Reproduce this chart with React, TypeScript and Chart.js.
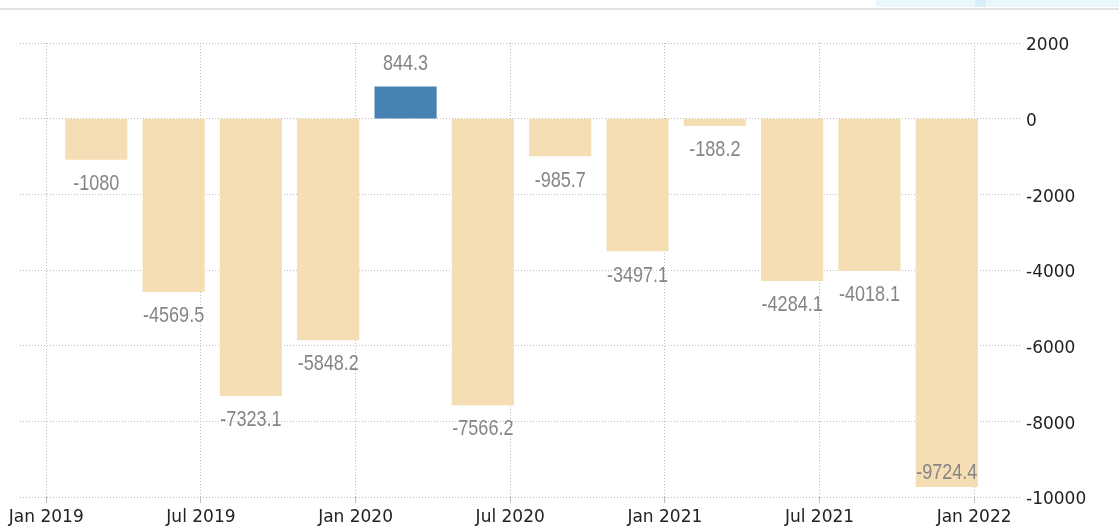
import React, { useEffect, useRef } from 'react';
import { Chart, registerables } from 'chart.js';

Chart.register(...registerables);

// Quarterly balance (quarter ends Mar 2019 ... Dec 2021)
const quarters = ['2019 Q1', '2019 Q2', '2019 Q3', '2019 Q4', '2020 Q1', '2020 Q2', '2020 Q3', '2020 Q4', '2021 Q1', '2021 Q2', '2021 Q3', '2021 Q4'];
const balance = [-1080, -4569.5, -7323.1, -5848.2, 844.3, -7566.2, -985.7, -3497.1, -188.2, -4284.1, -4018.1, -9724.4];

// x axis ticks: months counted from Jan 2019
const xTickMonths = [0, 6, 12, 18, 24, 30, 36];
const xTickLabels = ['Jan 2019', 'Jul 2019', 'Jan 2020', 'Jul 2020', 'Jan 2021', 'Jul 2021', 'Jan 2022'];
const yTickValues = [2000, 0, -2000, -4000, -6000, -8000, -10000];

const POS_COLOR = '#4682B4';
const NEG_COLOR = '#F5DEB3';
const GRID_COLOR = '#bdbdbd';

function quarterToMonth(q: string): number {
  const [y, qq] = q.split(' ');
  const year = parseInt(y, 10);
  const n = parseInt(qq.replace('Q', ''), 10);
  // bars sit just before the quarter-end date
  return (year - 2019) * 12 + n * 3 - 1.06;
}

const labelPlugin = {
  id: 'valueLabels',
  afterDatasetsDraw(chart: any) {
    const meta = chart.getDatasetMeta(0);
    const ctx = chart.ctx;
    const area = chart.chartArea;
    ctx.save();
    ctx.fillStyle = '#858585';
    ctx.font = '22px "Liberation Sans", Arial, sans-serif';
    ctx.textAlign = 'center';
    ctx.textBaseline = 'middle';
    meta.data.forEach((bar: any, i: number) => {
      const v = balance[i];
      const end = bar.y;
      let cy = v >= 0 ? end - 22.5 : end + 24.5;
      if (v < 0 && cy + 9 > area.bottom) cy = end - 14;
      ctx.save();
      ctx.translate(bar.x, cy);
      ctx.scale(0.82, 1);
      ctx.fillText(String(v), 0, 0);
      ctx.restore();
    });
    ctx.restore();
  },
};

export default function App() {
  const canvasRef = useRef<HTMLCanvasElement | null>(null);

  useEffect(() => {
    const canvas = canvasRef.current;
    if (!canvas) return;
    const chart = new Chart(canvas, {
      type: 'bar',
      data: {
        datasets: [
          {
            data: quarters.map((q, i) => ({ x: quarterToMonth(q), y: balance[i] })),
            backgroundColor: balance.map((v) => (v >= 0 ? POS_COLOR : NEG_COLOR)),
            borderWidth: 0,
            barThickness: 61.5,
          },
        ],
      },
      options: {
        responsive: false,
        animation: false,
        events: [],
        layout: { padding: { left: 20, top: 43, right: 0, bottom: 0 } },
        plugins: { legend: { display: false }, tooltip: { enabled: false } },
        scales: {
          x: {
            type: 'linear',
            offset: false,
            min: -1.02,
            max: 37.78,
            afterBuildTicks: (scale: any) => {
              scale.ticks = xTickMonths.map((v) => ({ value: v }));
            },
            afterFit: (scale: any) => {
              scale.height = 29;
            },
            grid: {
              offset: false,
              color: GRID_COLOR,
              lineWidth: 1,
              tickLength: 6,
              drawTicks: true,
              tickColor: GRID_COLOR,
            },
            border: { display: false, dash: [1, 2] },
            ticks: {
              autoSkip: false,
              maxRotation: 0,
              padding: 4,
              color: '#222',
              font: { family: '"DejaVu Sans", sans-serif', size: 17 },
              callback: (value: any) => {
                const idx = xTickMonths.indexOf(Number(value));
                return idx >= 0 ? xTickLabels[idx] : '';
              },
            },
          },
          y: {
            position: 'right',
            min: -10000,
            max: 2000,
            afterBuildTicks: (scale: any) => {
              scale.ticks = yTickValues.map((v) => ({ value: v }));
            },
            afterFit: (scale: any) => {
              scale.width = 99;
            },
            grid: {
              color: GRID_COLOR,
              lineWidth: 1,
              drawTicks: false,
            },
            border: { display: false, dash: [1, 2] },
            ticks: {
              crossAlign: 'near',
              padding: 6,
              labelOffset: 3,
              color: '#222',
              font: { family: '"DejaVu Sans", sans-serif', size: 17 },
              callback: (value: any) => String(value),
            },
          },
        },
      } as any,
      plugins: [labelPlugin],
    });
    return () => chart.destroy();
  }, []);

  return (
    <div style={{ position: 'absolute', left: 0, top: 0, width: 1119, height: 526, background: '#fff', overflow: 'hidden' }}>
      <div style={{ position: 'absolute', left: 0, top: 8, width: 1119, height: 2, background: '#e2e2e2' }} />
      <div style={{ position: 'absolute', left: 876, top: 0, width: 243, height: 7, background: '#eaf8fd' }} />
      <div style={{ position: 'absolute', left: 975, top: 0, width: 11, height: 7, background: '#d8effa' }} />
      <canvas ref={canvasRef} width={1119} height={526} style={{ position: 'absolute', left: 0, top: 0, width: 1119, height: 526 }} />
    </div>
  );
}
